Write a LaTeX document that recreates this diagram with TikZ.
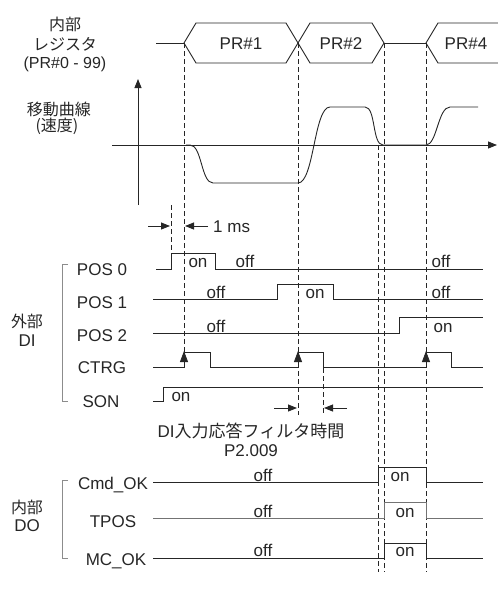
\documentclass[tikz,border=0pt]{standalone}
\usepackage{fontspec}
\setmainfont{Liberation Sans}
\newfontfamily\jpfont{Noto Sans CJK JP}
\usetikzlibrary{positioning, arrows.meta}

\begin{document}
\begin{tikzpicture}[x=1pt, y=-1pt,
    wave/.style={line width=0.9pt, black!85},
    guide/.style={line width=0.7pt, black!85, dash pattern=on 5pt off 3pt},
    ptr/.style={-{Triangle[length=9pt,width=7pt]}, line width=0.8pt, black!85},
    trig/.style={-{Triangle[length=11pt,width=8pt]}, line width=0.8pt, black!85},
    lab/.style={font=\fontsize{17}{19}\selectfont, text=black!85, inner sep=0pt, anchor=base},
    jlab/.style={font=\jpfont\fontsize{16}{18}\selectfont, text=black!85, inner sep=0pt},
    brack/.style={line width=0.8pt, black!45}]

    \useasboundingbox (0,0) rectangle (498,592);

    % Register (PR#0 - 99)
    \draw[wave] (156,43) -- (184,43);
    \draw[wave] (184,43) -- (196,23) -- (286,23) -- (298,43) -- (286,63) -- (196,63) -- cycle;
    \draw[wave] (298,43) -- (310,23) -- (372,23) -- (384,43) -- (372,63) -- (310,63) -- cycle;
    \draw[wave] (384,43) -- (426,43);
    \draw[wave] (498,23) -- (438,23) -- (426,43) -- (438,63) -- (498,63);
    \node[lab] (pr1) at (241,49) {PR\#1};
    \node[lab] (pr2) at (341,49) {PR\#2};
    \node[lab] (pr4) at (466,49) {PR\#4};

    \node[jlab] (regA) at (65,24) {内部};
    \node[jlab] (regB) at (65,44) {レジスタ};
    \node[font=\fontsize{16}{18}\selectfont, text=black!85, inner sep=0pt] (regC) at (65,64) {(PR\#0 - 99)};

    % Velocity curve
    \node[jlab] (velA) at (59,109) {移動曲線};
    \node[jlab] (velB) at (57,126) {(速度)};
    \draw[ptr] (112,145) -- (497,145);
    \draw[ptr] (138,205) -- (138,79);
    \draw[wave] (186,145) -- (190,145) .. controls (202,145) and (201,183) .. (213,183)
        -- (298,183) .. controls (314,183) and (314,107) .. (330,107)
        -- (365,107) .. controls (376,107) and (372,145) .. (383,145)
        -- (426,145) .. controls (437,145) and (438,107) .. (450,107) -- (478,107);

    % Dashed time marks
    \draw[guide] (171,205) -- (171,253);
    \draw[guide] (184,43) -- (184,352);
    \draw[guide] (298,43) -- (298,415);
    \draw[guide] (323,352) -- (323,415);
    \draw[guide] (378,145) -- (378,572);
    \draw[guide] (384,43) -- (384,572);
    \draw[guide] (426,43) -- (426,572);

    % 1 ms
    \draw[ptr] (148,226) -- (170,226);
    \draw[ptr] (208,226) -- (185,226);
    \node[lab, anchor=base west] (onems) at (213,232) {1 ms};

    % External DI
    \draw[brack] (68,264) -- (62,264) -- (62,401) -- (68,401);
    \node[jlab] (diA) at (27,321) {外部};
    \node[lab, anchor=center] (diB) at (27,341) {DI};

    \node[lab] (pos0) at (102,275) {POS 0};
    \node[lab] (pos1) at (102,308) {POS 1};
    \node[lab] (pos2) at (102,341) {POS 2};
    \node[lab] (ctrg) at (102,373) {CTRG};
    \node[lab] (son) at (101,407) {SON};

    \draw[wave] (156,269) -- (171,269) -- (171,253) -- (215,253) -- (215,269) -- (483,269);
    \draw[wave] (153,299) -- (277,299) -- (277,284) -- (333,284) -- (333,299) -- (483,299);
    \draw[wave] (153,333) -- (399,333) -- (399,317) -- (483,317);
    \draw[wave] (153,367) -- (184,367) -- (184,352) -- (210,352) -- (210,367)
        -- (298,367) -- (298,352) -- (323,352) -- (323,367)
        -- (426,367) -- (426,352) -- (451,352) -- (451,367) -- (483,367);
    \draw[wave] (153,401) -- (163,401) -- (163,387) -- (483,387);

    \draw[trig] (184,366) -- (184,351);
    \draw[trig] (298,366) -- (298,351);
    \draw[trig] (426,366) -- (426,351);

    \node[lab] (p0on) at (198,267) {on};
    \node[lab] (p0off) at (245,267) {off};
    \node[lab] (p0offb) at (441,267) {off};
    \node[lab] (p1off) at (216,298) {off};
    \node[lab] (p1on) at (315,298) {on};
    \node[lab] (p1offb) at (441,298) {off};
    \node[lab] (p2off) at (216,332) {off};
    \node[lab] (p2on) at (443,332) {on};
    \node[lab] (sonon) at (181,401) {on};

    % DI filter time
    \draw[ptr] (274,408) -- (297,408);
    \draw[ptr] (347,408) -- (324,408);
    \node[font=\fontsize{17}{19}\selectfont, text=black!85, inner sep=0pt] (filt) at (251,431) {DI{\jpfont 入力応答フィルタ時間}};
    \node[lab] (p2009) at (251,456) {P2.009};

    % Internal DO
    \draw[brack] (68,480) -- (62,480) -- (62,558) -- (68,558);
    \node[jlab] (doA) at (27,507) {内部};
    \node[lab, anchor=center] (doB) at (27,526) {DO};

    \node[lab] (cmdok) at (113,489) {Cmd\_OK};
    \node[lab] (tpos) at (113,527) {TPOS};
    \node[lab] (mcok) at (116,565) {MC\_OK};

    \draw[wave] (153,482) -- (378,482) -- (378,467) -- (426,467) -- (426,482) -- (483,482);
    \draw[wave, black!55] (153,518) -- (384,518) -- (384,502) -- (426,502) -- (426,518) -- (483,518);
    \draw[wave] (153,558) -- (384,558) -- (384,543) -- (426,543) -- (426,558) -- (483,558);

    \node[lab] (cmdoff) at (263,481) {off};
    \node[lab] (cmdon) at (400,481) {on};
    \node[lab] (tposoff) at (263,517) {off};
    \node[lab] (tposon) at (405,517) {on};
    \node[lab] (mcoff) at (263,556) {off};
    \node[lab] (mcon) at (405,556) {on};

\end{tikzpicture}
\end{document}
